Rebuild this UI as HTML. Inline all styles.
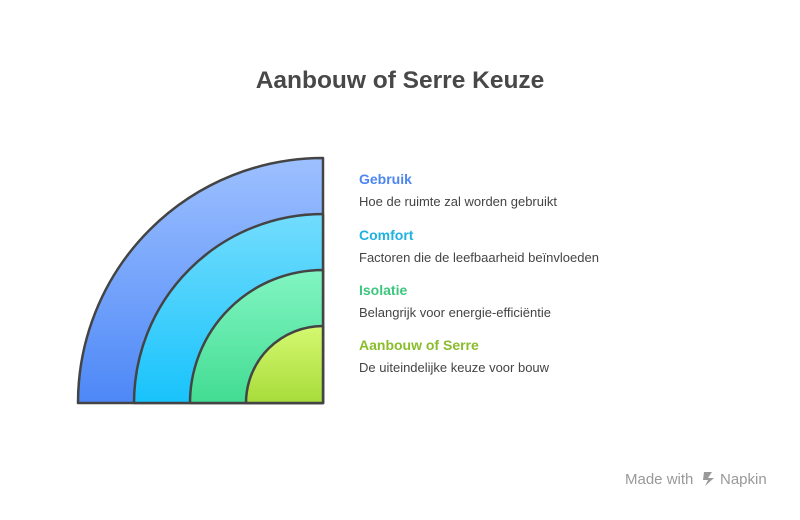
<!DOCTYPE html>
<html><head><meta charset="utf-8"><style>
body{margin:0;width:800px;height:515px;background:#fff;font-family:"Liberation Sans",sans-serif;overflow:hidden}
</style></head><body>
<svg width="800" height="515" xmlns="http://www.w3.org/2000/svg">
<defs>
<linearGradient id="g1" x1="0" y1="158" x2="0" y2="403" gradientUnits="userSpaceOnUse"><stop offset="0" stop-color="#9dc0ff"/><stop offset="1" stop-color="#4d88f7"/></linearGradient>
<linearGradient id="g2" x1="0" y1="214" x2="0" y2="403" gradientUnits="userSpaceOnUse"><stop offset="0" stop-color="#72dcfd"/><stop offset="1" stop-color="#18c3fb"/></linearGradient>
<linearGradient id="g3" x1="0" y1="270" x2="0" y2="403" gradientUnits="userSpaceOnUse"><stop offset="0" stop-color="#82f5c2"/><stop offset="1" stop-color="#42dc92"/></linearGradient>
<linearGradient id="g4" x1="0" y1="326" x2="0" y2="403" gradientUnits="userSpaceOnUse"><stop offset="0" stop-color="#d5f870"/><stop offset="1" stop-color="#a7dc3a"/></linearGradient>
</defs>
<text x="400" y="88" text-anchor="middle" font-size="24.5" font-weight="bold" fill="#484848">Aanbouw of Serre Keuze</text>
<g stroke="#444" stroke-width="2.5" stroke-linejoin="round">
<path d="M323 403 L78 403 A245 245 0 0 1 323 158 Z" fill="url(#g1)"/>
<path d="M323 403 L134 403 A189 189 0 0 1 323 214 Z" fill="url(#g2)"/>
<path d="M323 403 L190 403 A133 133 0 0 1 323 270 Z" fill="url(#g3)"/>
<path d="M323 403 L246 403 A77 77 0 0 1 323 326 Z" fill="url(#g4)"/>
</g>
<g font-size="14" font-weight="bold">
<text x="359" y="184" fill="#4d86f0">Gebruik</text>
<text x="359" y="240" fill="#1fb2e0">Comfort</text>
<text x="359" y="295" fill="#3cc67e">Isolatie</text>
<text x="359" y="350" fill="#8abd2c">Aanbouw of Serre</text>
</g>
<g font-size="13" fill="#444">
<text x="359" y="206">Hoe de ruimte zal worden gebruikt</text>
<text x="359" y="262">Factoren die de leefbaarheid beïnvloeden</text>
<text x="359" y="317">Belangrijk voor energie-efficiëntie</text>
<text x="359" y="372">De uiteindelijke keuze voor bouw</text>
</g>
<text x="625" y="484" font-size="15" fill="#999">Made with</text>
<path d="M704 472 l8 0 l-4 6 l6 0 l-9 8 l3 -6 l-5 0 z" fill="#999"/>
<text x="720" y="484" font-size="15" fill="#999">Napkin</text>
</svg>
</body></html>
